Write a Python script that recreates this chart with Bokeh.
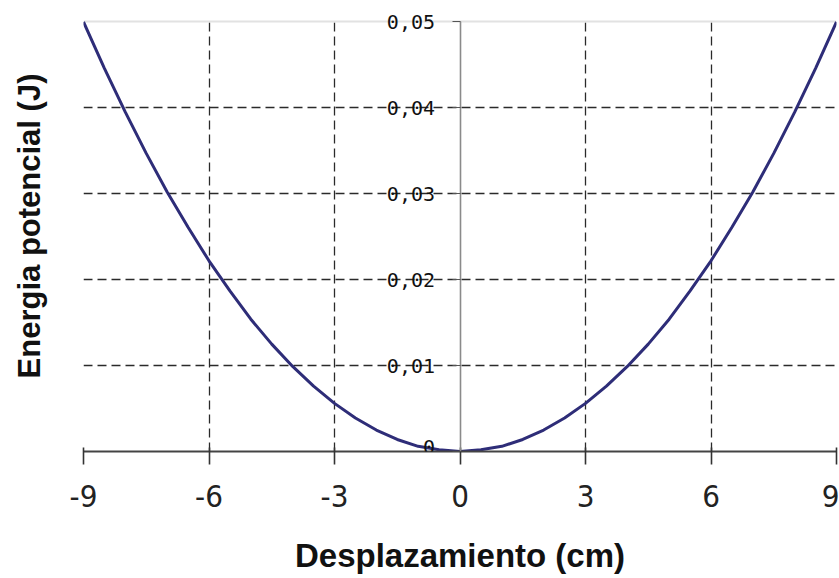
from bokeh.plotting import figure
from bokeh.models import FixedTicker, CustomJSTickFormatter, Range1d, LinearAxis, Label, Grid
from bokeh.embed import file_html
from bokeh.resources import INLINE

# Data
x_cm = [-9, -8.5, -8, -7.5, -7, -6.5, -6, -5.5, -5, -4.5, -4, -3.5, -3, -2.5, -2, -1.5, -1, -0.5, 0,
        0.5, 1, 1.5, 2, 2.5, 3, 3.5, 4, 4.5, 5, 5.5, 6, 6.5, 7, 7.5, 8, 8.5, 9]
energia_J = [0.0500, 0.0446, 0.0395, 0.0347, 0.0302, 0.0261, 0.0222, 0.0187, 0.0154, 0.0125,
             0.0099, 0.0076, 0.0056, 0.0039, 0.0025, 0.0014, 0.0006, 0.0002, 0.0,
             0.0002, 0.0006, 0.0014, 0.0025, 0.0039, 0.0056, 0.0076, 0.0099, 0.0125,
             0.0154, 0.0187, 0.0222, 0.0261, 0.0302, 0.0347, 0.0395, 0.0446, 0.0500]
x_ticks = [-9, -6, -3, 0, 3, 6, 9]
x_grid = [-6, -3, 3, 6]
x_edges = [-9, 9]
y_ticks = [0, 0.01, 0.02, 0.03, 0.04, 0.05]
y_tick_labels = ["0", "0,01", "0,02", "0,03", "0,04", "0,05"]
y_grid = [0.01, 0.02, 0.03, 0.04]
y_top = [0.05]
x_title = "Desplazamiento (cm)"
y_title = "Energia potencial (J)"

# A little head-room above 0.05 so the top value label is not clipped
p = figure(width=839, height=576, output_backend="svg", toolbar_location=None,
           x_range=Range1d(-9, 9), y_range=Range1d(0, 0.0525),
           min_border_left=83, min_border_right=3, min_border_top=0, min_border_bottom=123)
p.outline_line_color = None
p.background_fill_color = "white"
p.border_fill_color = "white"

# Dashed grid
p.xgrid.ticker = FixedTicker(ticks=x_grid)
p.ygrid.ticker = FixedTicker(ticks=y_grid)
for g in (p.xgrid, p.ygrid):
    g.grid_line_color = "#2a2a2a"
    g.grid_line_dash = "9 5"
    g.grid_line_width = 1.3
try:
    p.xgrid.cross_bounds = (0, 0.05)
except Exception:
    pass

# Light plot-area border lines (top at 0.05, sides at -9 / 9)
top_line = Grid(dimension=1, ticker=FixedTicker(ticks=y_top),
                grid_line_color="#e2e2e2", grid_line_width=2)
side_lines = Grid(dimension=0, ticker=FixedTicker(ticks=x_edges),
                  grid_line_color="#ececec", grid_line_width=2)
try:
    side_lines.cross_bounds = (0, 0.05)
except Exception:
    pass
p.add_layout(top_line)
p.add_layout(side_lines)

# Bottom axis (at y = 0)
xa = p.xaxis[0]
xa.ticker = FixedTicker(ticks=x_ticks)
xa.formatter = CustomJSTickFormatter(code="return String(tick);")
xa.axis_line_color = "#444444"
xa.axis_line_width = 2
xa.major_tick_line_color = "#333333"
xa.major_tick_line_width = 1.6
xa.major_tick_in = 4
xa.major_tick_out = 13
xa.minor_tick_line_color = None
xa.major_label_standoff = 20
xa.major_label_text_font = "'Liberation Sans Narrow', 'DejaVu Sans Condensed', 'Liberation Sans', sans-serif"
xa.major_label_text_font_size = "31px"
xa.major_label_text_color = "#222222"
xa.axis_label = x_title
xa.axis_label_text_font = "Liberation Sans"
xa.axis_label_text_font_style = "bold"
xa.axis_label_text_font_size = "33px"
xa.axis_label_text_color = "#111111"
xa.axis_label_standoff = 27

# Default left axis carries only the title
ya = p.yaxis[0]
ya.ticker = FixedTicker(ticks=[])
ya.axis_line_color = None
ya.major_tick_line_color = None
ya.minor_tick_line_color = None
ya.axis_label = y_title
ya.axis_label_text_font = "Liberation Sans"
ya.axis_label_text_font_style = "bold"
ya.axis_label_text_font_size = "31px"
ya.axis_label_text_color = "#111111"
ya.axis_label_standoff = 37

# Value axis line and ticks drawn at x = 0 (labels added separately)
ya0 = LinearAxis(fixed_location=0, ticker=FixedTicker(ticks=y_ticks), bounds=(0, 0.05))
ya0.formatter = CustomJSTickFormatter(code='return "";')
ya0.axis_line_color = "#8a8a8a"
ya0.axis_line_width = 1.6
ya0.major_tick_line_color = "#555555"
ya0.major_tick_in = 0
ya0.major_tick_out = 8
ya0.minor_tick_line_color = None
p.add_layout(ya0, "left")

# Curve
p.line(x_cm, energia_J, line_color="#2E2D78", line_width=3)

# Value labels next to the axis at x = 0
for t, s in zip(y_ticks, y_tick_labels):
    p.add_layout(Label(x=0, y=t, text=s, x_offset=-25, y_offset=(5 if t == 0 else 0),
                       text_align="right", text_baseline="middle",
                       text_font="DejaVu Sans Mono", text_font_size="20px",
                       text_color="#111111"))

open("out.html", "w").write(file_html(p, INLINE))
